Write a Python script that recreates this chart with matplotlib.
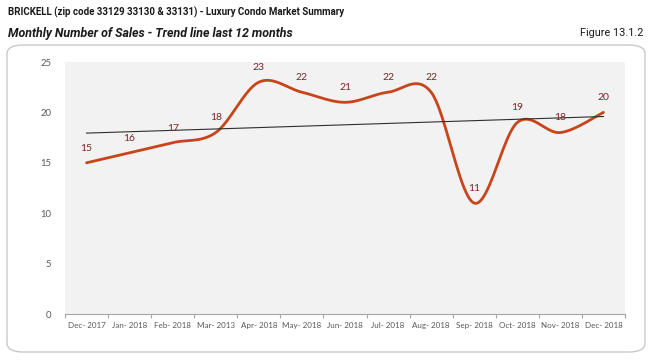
import numpy as np
import matplotlib
matplotlib.use("Agg")
import matplotlib.pyplot as plt
from matplotlib.patches import FancyBboxPatch

# ── data ──
months = ["Dec- 2017", "Jan- 2018", "Feb- 2018", "Mar- 2013", "Apr- 2018",
          "May- 2018", "Jun- 2018", "Jul- 2018", "Aug- 2018", "Sep- 2018",
          "Oct- 2018", "Nov- 2018", "Dec- 2018"]
sales = [15, 16, 17, 18, 23, 22, 21, 22, 22, 11, 19, 18, 20]
y_ticks = [0, 5, 10, 15, 20, 25]

LINE_COLOR = "#C8441B"
LABEL_COLOR = "#7A2626"
TEXT_GRAY = "#595959"


def smooth_curve(x, y, n=40):
    """Excel-style smoothed line: cubic Bezier segments, Catmull-Rom controls."""
    pts = np.column_stack([x, y]).astype(float)
    ext = np.vstack([pts[0], pts, pts[-1]])
    t = np.linspace(0, 1, n)[:, None]
    out = []
    for i in range(len(pts) - 1):
        p0, p1 = ext[i + 1], ext[i + 2]
        c1 = p0 + (ext[i + 2] - ext[i]) / 6
        c2 = p1 - (ext[i + 3] - ext[i + 1]) / 6
        seg = ((1 - t) ** 3 * p0 + 3 * (1 - t) ** 2 * t * c1
               + 3 * (1 - t) * t ** 2 * c2 + t ** 3 * p1)
        out.append(seg if i == 0 else seg[1:])
    seg = np.vstack(out)
    return seg[:, 0], seg[:, 1]


fig = plt.figure(figsize=(6.51, 3.62), dpi=100)

# outer rounded frame
frame = FancyBboxPatch((7 / 651, 1 - 352 / 362), (645 - 7) / 651, (352 - 45) / 362,
                       boxstyle="round,pad=0,rounding_size=0.025",
                       transform=fig.transFigure, facecolor="white",
                       edgecolor="#C9C9C9", linewidth=1.0, zorder=-1)
fig.patches.append(frame)

title_font = ["Roboto", "DejaVu Sans"]
fig.text(8 / 651, 1 - 12 / 362, "BRICKELL (zip code 33129 33130 & 33131) - Luxury Condo Market Summary",
         ha="left", va="center", fontsize=7.0, fontweight="bold", family=title_font, color="#1a1a1a")
fig.text(8 / 651, 1 - 33 / 362, "Monthly Number of Sales - Trend line last 12 months",
         ha="left", va="center", fontsize=8.9, fontweight="bold", fontstyle="italic",
         family=title_font, color="#1a1a1a")
fig.text(643 / 651, 1 - 33 / 362, "Figure 13.1.2", ha="right", va="center",
         fontsize=7.8, family=title_font, color="#1a1a1a")

ax = fig.add_axes([65 / 651, 1 - 314 / 362, (625 - 65) / 651, (314 - 62) / 362])
ax.set_facecolor("#F2F2F2")

x = np.arange(len(sales))
sx, sy = smooth_curve(x, sales)
ax.plot(sx, sy, color=LINE_COLOR, linewidth=2.0, solid_capstyle="round", zorder=3)

# linear trend line
k, b = np.polyfit(x, sales, 1)
ax.plot([x[0], x[-1]], [k * x[0] + b, k * x[-1] + b], color="#2E2E2E", linewidth=0.8, zorder=4)

for xi, v in zip(x, sales):
    ax.annotate(str(v), (xi, v), xytext=(0, 10.5), textcoords="offset points",
                ha="center", va="center", fontsize=7.5, color=LABEL_COLOR,
                family=["Lato", "DejaVu Sans"], zorder=5)

ax.set_xlim(-0.5, len(sales) - 0.5)
ax.set_ylim(0, 25)

for s in ("top", "right", "left"):
    ax.spines[s].set_visible(False)
ax.spines["bottom"].set_color("#A6A6A6")
ax.spines["bottom"].set_linewidth(0.8)

ax.set_xticks(np.arange(-0.5, len(sales), 1.0))
ax.set_xticklabels([])
ax.set_xticks(x, minor=True)
ax.set_xticklabels(months, minor=True)
ax.tick_params(axis="x", which="major", direction="out", length=3, width=0.8, color="#A6A6A6")
ax.tick_params(axis="x", which="minor", length=0, pad=6, labelsize=5.8, labelcolor=TEXT_GRAY)
for lab in ax.get_xticklabels(minor=True):
    lab.set_family(["Lato", "DejaVu Sans"])

ax.set_yticks(y_ticks)
ax.tick_params(axis="y", length=0, pad=10, labelsize=6.8, labelcolor=TEXT_GRAY)
for lab in ax.get_yticklabels():
    lab.set_family(["Lato", "DejaVu Sans"])

fig.savefig("out.png", dpi=100)
